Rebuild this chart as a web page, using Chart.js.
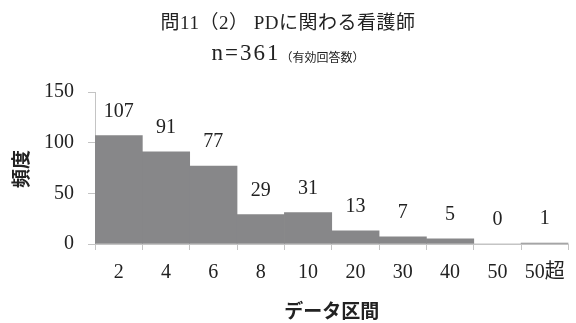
<!DOCTYPE html>
<html>
<head>
<meta charset="utf-8">
<script src="https://cdn.jsdelivr.net/npm/chart.js@4/dist/chart.umd.min.js"></script>
<style>
  html, body { margin: 0; padding: 0; background: #fff; }
  #wrap { width: 576px; height: 323px; position: relative; }
</style>
</head>
<body>
<div id="wrap"><canvas id="hist"></canvas></div>
<script>
// 度数分布（データ区間ごとの頻度）
const kukan = ['2', '4', '6', '8', '10', '20', '30', '40', '50', '50超'];
const hindo = [107, 91, 77, 29, 31, 13, 7, 5, 0, 1];
const yTicks = [0, 50, 100, 150];

const SERIF = "'Liberation Serif', 'Noto Sans CJK JP', serif";
const GOTHIC = "'Noto Sans CJK JP', sans-serif";
const AXIS_GRAY = '#c4c4c4';

// タイトル・軸ラベル・値ラベル
const decorPlugin = {
    id: 'decor',
    afterDraw(chart) {
        const ctx = chart.ctx;
        const area = chart.chartArea;
        ctx.save();
        ctx.fillStyle = '#222';
        ctx.textBaseline = 'middle';

        // タイトル 1行目
        ctx.textAlign = 'center';
        ctx.font = "19px " + SERIF;
        ctx.letterSpacing = '0.5px';
        ctx.fillText('問11（2） PDに関わる看護師', 288, 24);

        // タイトル 2行目（n= と小さい注記）
        const main = 'n=361';
        const note = '（有効回答数）';
        ctx.letterSpacing = '2px';
        ctx.font = "23px " + SERIF;
        const w1 = ctx.measureText(main).width;
        ctx.letterSpacing = '0px';
        ctx.font = "12px " + GOTHIC;
        const w2 = ctx.measureText(note).width;
        let x0 = 288 - (w1 + w2) / 2;
        ctx.textAlign = 'left';
        ctx.letterSpacing = '2px';
        ctx.font = "23px " + SERIF;
        ctx.fillText(main, x0, 54);
        ctx.letterSpacing = '0px';
        ctx.font = "12px " + GOTHIC;
        ctx.fillText(note, x0 + w1, 57);

        // 軸タイトル
        ctx.font = "bold 19px " + GOTHIC;
        ctx.textAlign = 'center';
        ctx.fillText('データ区間', (area.left + area.right) / 2, 311);
        ctx.translate(21, (area.top + area.bottom) / 2 + 1);
        ctx.rotate(-Math.PI / 2);
        ctx.fillText('頻度', 0, 0);
        ctx.setTransform(1, 0, 0, 1, 0, 0);

        // 棒の上の値
        ctx.font = "20px " + SERIF;
        const meta = chart.getDatasetMeta(0);
        meta.data.forEach((bar, i) => {
            ctx.fillText(String(hindo[i]), bar.x, bar.y - 24);
        });
        ctx.restore();
    }
};

new Chart(document.getElementById('hist'), {
    type: 'bar',
    data: {
        labels: kukan,
        datasets: [{
            data: hindo,
            backgroundColor: '#878789',
            borderWidth: 0,
            barPercentage: 1.0,
            categoryPercentage: 1.0
        }]
    },
    options: {
        responsive: true,
        maintainAspectRatio: false,
        animation: false,
        layout: { padding: { top: 92, right: 4, left: 0, bottom: 0 } },
        plugins: {
            legend: { display: false },
            tooltip: { enabled: false }
        },
        scales: {
            x: {
                grid: {
                    display: true,
                    drawOnChartArea: false,
                    offset: true,
                    tickLength: 6,
                    color: AXIS_GRAY
                },
                border: { color: AXIS_GRAY, width: 1 },
                ticks: {
                    color: '#222',
                    padding: 11,
                    maxRotation: 0,
                    font: { family: SERIF, size: 20 }
                },
                afterFit(scale) { scale.height = 79; }
            },
            y: {
                min: 0,
                max: 150,
                afterBuildTicks(scale) {
                    scale.ticks = yTicks.map(v => ({ value: v }));
                },
                grid: {
                    display: true,
                    drawOnChartArea: false,
                    tickLength: 7,
                    color: AXIS_GRAY
                },
                border: { color: AXIS_GRAY, width: 1 },
                ticks: {
                    color: '#222',
                    padding: 14,
                    font: { family: SERIF, size: 20 }
                },
                afterFit(scale) { scale.width = 95; }
            }
        }
    },
    plugins: [decorPlugin]
});
</script>
</body>
</html>
